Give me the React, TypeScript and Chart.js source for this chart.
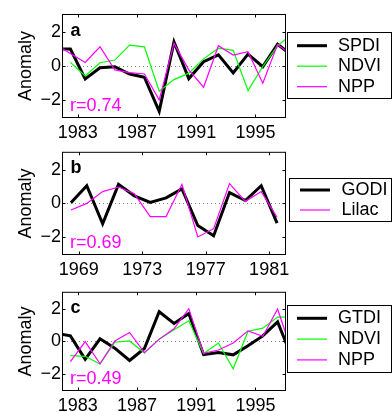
import React, { useEffect, useRef } from "react";
import { Chart, registerables } from "chart.js";

Chart.register(...registerables);

// ---------- data ----------
// Values are annual anomalies, plotted at mid-year (year + 0.5).
// Panel a
const yearsA = [1981, 1982, 1983, 1984, 1985, 1986, 1987, 1988, 1989, 1990, 1991, 1992, 1993, 1994, 1995, 1996, 1997];
const spdiA = [1.0, 1.0, -0.76, -0.1, -0.04, -0.47, -0.66, -2.67, 1.42, -0.74, 0.25, 0.66, -0.41, 0.7, -0.04, 1.28, 0.6];
const ndviA = [null, 0.21, -0.58, 0.19, 0.35, 1.23, 1.13, -1.48, -0.8, -0.42, 0.42, 1.05, 0.92, -1.45, -0.03, 1.2, 1.9];
const nppA = [1.26, 0.74, 0.21, 1.13, -0.23, -0.39, -0.47, -1.99, 1.33, -0.23, -1.25, 1.19, 0.64, 0.84, -1.01, 1.27, 0.61];
// Panel b
const yearsB = [1968, 1969, 1970, 1971, 1972, 1973, 1974, 1975, 1976, 1977, 1978, 1979, 1980, 1981];
const godiB = [0.04, 1.05, -1.21, 1.13, 0.45, 0.06, 0.33, 0.86, -1.31, -1.92, 0.64, 0.17, 1.05, -1.17];
const lilacB = [-0.39, 0.0, 0.7, 0.97, 0.57, -0.78, -0.78, 1.13, -1.99, -1.5, 1.17, 0.12, 0.7, -0.82];
// Panel c
const yearsC = [1981, 1982, 1983, 1984, 1985, 1986, 1987, 1988, 1989, 1990, 1991, 1992, 1993, 1994, 1995, 1996, 1997];
const gtdiC = [0.5, 0.34, -1.11, 0.16, -0.42, -1.18, -0.44, 1.83, 1.11, 1.72, -0.82, -0.69, -0.83, -0.27, 0.34, 1.2, -1.07];
const ndviC = [null, -0.88, -0.92, -1.4, -0.05, 0.03, -0.71, 0.14, 0.72, 1.27, -0.75, -0.1, -1.69, 0.63, 0.82, 1.5, 1.5];
const nppC = [null, -1.25, -0.01, -1.38, 0.03, 0.55, -0.69, 0.14, 0.78, 2.02, -0.73, -0.53, -0.1, 0.65, 0.31, 2.0, -0.75];

const xTicksAC = [1983, 1987, 1991, 1995];
const xTicksB = [1969, 1973, 1977, 1981];
const yTicks = [-2, 0, 2];
const rA = "r=0.74";
const rB = "r=0.69";
const rC = "r=0.49";

// ---------- styling ----------
const FONT = '"Liberation Sans", Arial, Helvetica, sans-serif';
const BLACK = "#000000";
const GREEN = "#00ff00";
const MAGENTA = "#ff00ff";
const MID = 0.5;

Chart.defaults.font.family = FONT;

type Series = { label: string; values: (number | null)[]; color: string; width: number; order: number };

type LegendGeom = { x0: number; y0: number; x1: number; y1: number; firstY: number; step: number; lineX0: number; lineX1: number; textX: number };

type Panel = {
  top: number;
  height: number;
  areaTop: number;
  areaBottom: number;
  xMin: number;
  xMax: number;
  xTicks: number[];
  years: number[];
  series: Series[];
  letter: string;
  r: string;
  legend: LegendGeom;
};

const panels: Panel[] = [
  {
    top: 0,
    height: 142,
    areaTop: 15,
    areaBottom: 117,
    xMin: 1982,
    xMax: 1997,
    xTicks: xTicksAC,
    years: yearsA,
    series: [
      { label: "SPDI", values: spdiA, color: BLACK, width: 3, order: 2 },
      { label: "NDVI", values: ndviA, color: GREEN, width: 1.2, order: 1 },
      { label: "NPP", values: nppA, color: MAGENTA, width: 1.2, order: 0 },
    ],
    letter: "a",
    r: rA,
    legend: { x0: 287, y0: 32, x1: 392, y1: 99, firstY: 45.7, step: 20.5, lineX0: 297, lineX1: 327, textX: 338 },
  },
  {
    top: 140,
    height: 142,
    areaTop: 12,
    areaBottom: 114,
    xMin: 1968,
    xMax: 1982,
    xTicks: xTicksB,
    years: yearsB,
    series: [
      { label: "GODI", values: godiB, color: BLACK, width: 3, order: 1 },
      { label: "Lilac", values: lilacB, color: MAGENTA, width: 1.2, order: 0 },
    ],
    letter: "b",
    r: rB,
    legend: { x0: 289, y0: 38, x1: 392, y1: 82, firstY: 50, step: 20, lineX0: 300, lineX1: 330, textX: 341.5 },
  },
  {
    top: 280,
    height: 132,
    areaTop: 8,
    areaBottom: 110,
    xMin: 1982,
    xMax: 1997,
    xTicks: xTicksAC,
    years: yearsC,
    series: [
      { label: "GTDI", values: gtdiC, color: BLACK, width: 3, order: 2 },
      { label: "NDVI", values: ndviC, color: GREEN, width: 1.2, order: 1 },
      { label: "NPP", values: nppC, color: MAGENTA, width: 1.2, order: 0 },
    ],
    letter: "c",
    r: rC,
    legend: { x0: 287, y0: 25, x1: 392, y1: 93, firstY: 38.3, step: 20.8, lineX0: 297, lineX1: 327, textX: 338 },
  },
];

const framePlugin = {
  id: "matlabFrame",
  beforeDatasetsDraw(chart: any) {
    const { ctx, chartArea: a, scales } = chart;
    const y0 = Math.round(scales.y.getPixelForValue(0)) + 0.5;
    ctx.save();
    ctx.strokeStyle = "#808080";
    ctx.lineWidth = 1;
    ctx.setLineDash([1, 3]);
    ctx.beginPath();
    ctx.moveTo(a.left, y0);
    ctx.lineTo(a.right, y0);
    ctx.stroke();
    ctx.restore();
  },
  afterDatasetsDraw(chart: any, _args: any, opts: any) {
    const { ctx, chartArea: a, scales } = chart;
    const L = a.left - 0.5;
    const R = a.right + 0.5;
    const T = a.top - 0.5;
    const B = a.bottom + 0.5;
    ctx.save();
    ctx.strokeStyle = "#000";
    ctx.lineWidth = 1;
    ctx.setLineDash([]);
    ctx.strokeRect(L, T, R - L, B - T);
    const tl = 3;
    ctx.beginPath();
    for (const t of scales.x.ticks) {
      const px = Math.round(scales.x.getPixelForValue(t.value)) + 0.5;
      ctx.moveTo(px, B);
      ctx.lineTo(px, B - tl);
      ctx.moveTo(px, T);
      ctx.lineTo(px, T + tl);
    }
    for (const t of scales.y.ticks) {
      const py = Math.round(scales.y.getPixelForValue(t.value)) + 0.5;
      ctx.moveTo(L, py);
      ctx.lineTo(L + tl, py);
      ctx.moveTo(R, py);
      ctx.lineTo(R - tl, py);
    }
    ctx.stroke();

    // panel letter
    ctx.fillStyle = "#000";
    ctx.textBaseline = "alphabetic";
    ctx.textAlign = "left";
    ctx.font = `bold 18px ${FONT}`;
    ctx.fillText(opts.letter, a.left + 7.5, a.top + 20.5);
    // correlation
    ctx.fillStyle = MAGENTA;
    ctx.font = `18px ${FONT}`;
    ctx.fillText(opts.r, a.left + 7, a.bottom - 6);

    // legend box
    const g: LegendGeom = opts.legend;
    ctx.fillStyle = "#fff";
    ctx.fillRect(g.x0, g.y0, g.x1 - g.x0, g.y1 - g.y0);
    ctx.strokeStyle = "#000";
    ctx.lineWidth = 1;
    ctx.strokeRect(g.x0 + 0.5, g.y0 + 0.5, g.x1 - g.x0 - 1, g.y1 - g.y0 - 1);
    chart.data.datasets.forEach((ds: any, i: number) => {
      const y = g.firstY + i * g.step;
      ctx.strokeStyle = ds.borderColor;
      ctx.lineWidth = ds.borderWidth;
      ctx.beginPath();
      ctx.moveTo(g.lineX0, y);
      ctx.lineTo(g.lineX1, y);
      ctx.stroke();
      ctx.fillStyle = "#000";
      ctx.font = `18px ${FONT}`;
      ctx.textBaseline = "middle";
      ctx.fillText(ds.label, g.textX, y);
    });
    ctx.restore();
  },
};

function PanelChart({ p }: { p: Panel }) {
  const ref = useRef<HTMLCanvasElement | null>(null);
  useEffect(() => {
    if (!ref.current) return;
    const chart = new Chart(ref.current, {
      type: "line",
      data: {
        datasets: p.series.map((s) => ({
          label: s.label,
          data: p.years.map((yr, i) => ({ x: yr + MID, y: s.values[i] })),
          borderColor: s.color,
          backgroundColor: s.color,
          borderWidth: s.width,
          pointRadius: 0,
          pointHoverRadius: 0,
          tension: 0,
          fill: false,
          spanGaps: false,
          clip: 0,
          order: s.order,
        })),
      },
      options: {
        responsive: false,
        animation: false,
        events: [],
        layout: { autoPadding: false, padding: { top: p.areaTop, left: 0, right: 392 - 285, bottom: 0 } },
        plugins: {
          legend: { display: false },
          tooltip: { enabled: false },
          matlabFrame: { letter: p.letter, r: p.r, legend: p.legend },
        } as any,
        scales: {
          x: {
            type: "linear",
            min: p.xMin,
            max: p.xMax,
            afterBuildTicks: (s: any) => {
              s.ticks = p.xTicks.map((v) => ({ value: v }));
            },
            afterFit: (s: any) => {
              s.height = p.height - p.areaBottom;
            },
            ticks: {
              color: "#000",
              font: { family: FONT, size: 18 },
              padding: 5,
              maxRotation: 0,
              autoSkip: false,
              callback: (v: any) => String(v),
            },
            grid: { display: false, drawTicks: false },
            border: { display: false },
          },
          y: {
            type: "linear",
            min: -3,
            max: 3,
            afterBuildTicks: (s: any) => {
              s.ticks = yTicks.map((v) => ({ value: v }));
            },
            afterFit: (s: any) => {
              s.width = 63;
            },
            ticks: {
              color: "#000",
              font: { family: FONT, size: 18 },
              padding: 2,
              callback: (v: any) => (Number(v) < 0 ? "\u2212" + Math.abs(Number(v)) : String(v)),
            },
            title: {
              display: true,
              text: "Anomaly",
              color: "#000",
              font: { family: FONT, size: 18 },
              padding: { top: 15, bottom: 0 },
            },
            grid: { display: false, drawTicks: false },
            border: { display: false },
          },
        },
      },
      plugins: [framePlugin],
    } as any);
    return () => chart.destroy();
  }, [p]);
  return (
    <canvas
      ref={ref}
      width={392}
      height={p.height}
      style={{ position: "absolute", left: 0, top: p.top, width: 392, height: p.height }}
    />
  );
}

export default function App() {
  return (
    <div style={{ position: "absolute", left: 0, top: 0, width: 392, height: 412, background: "#fff", overflow: "hidden" }}>
      {panels.map((p, i) => (
        <PanelChart key={i} p={p} />
      ))}
    </div>
  );
}
